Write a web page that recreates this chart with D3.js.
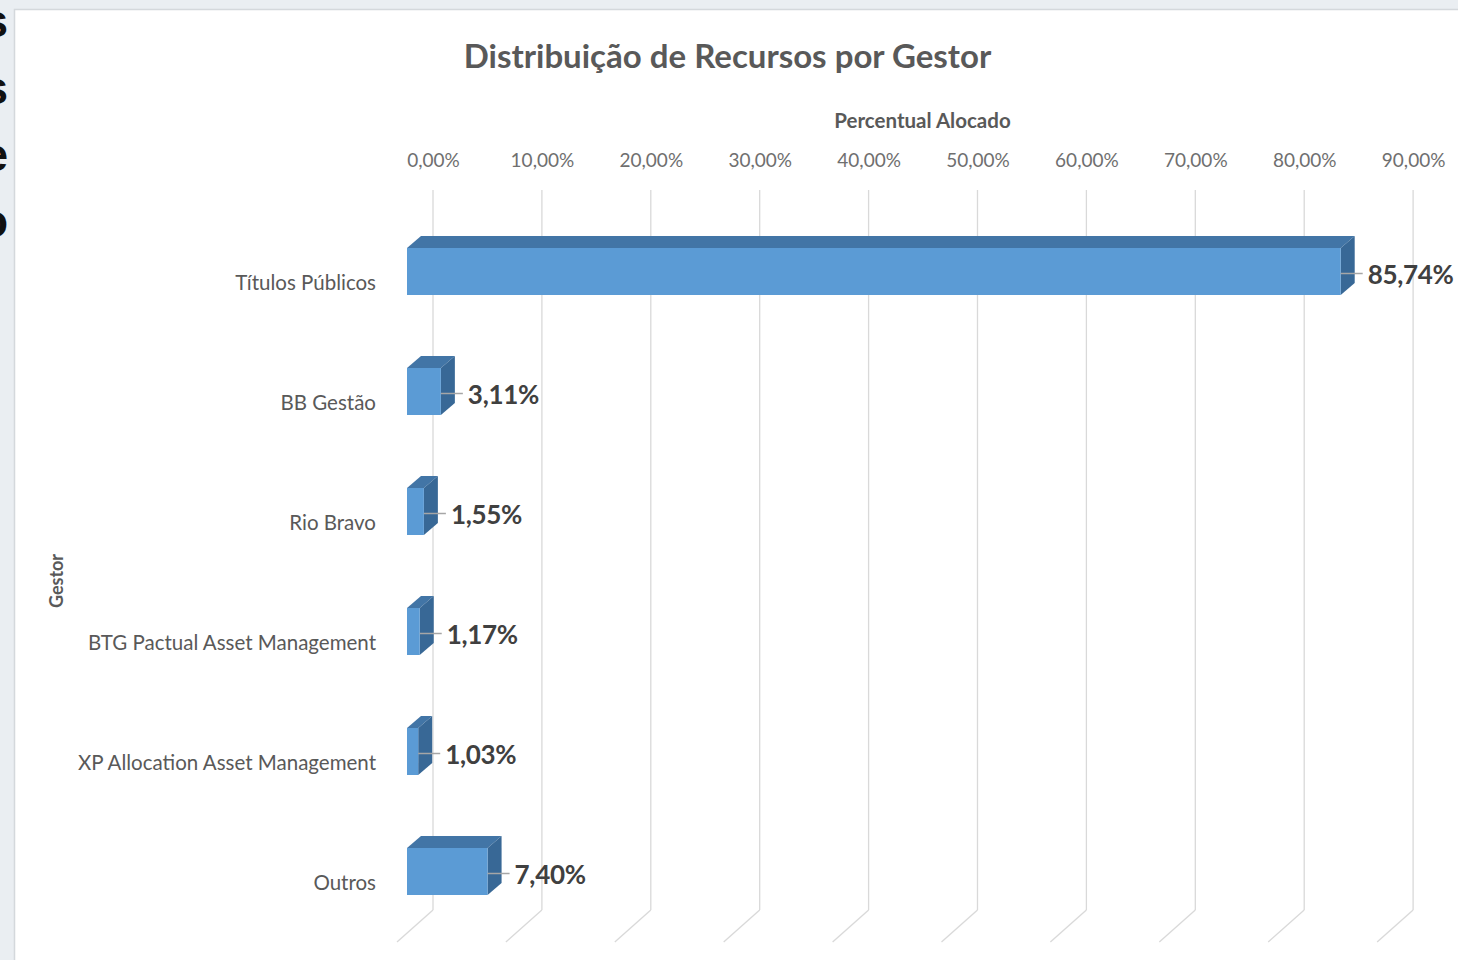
<!DOCTYPE html>
<html><head><meta charset="utf-8">
<script src="https://cdn.jsdelivr.net/npm/d3@7"></script>
<style>
html,body{margin:0;padding:0;background:#fff;}
svg{display:block;}
text{font-family:Lato,"Open Sans",sans-serif;}
</style></head>
<body>
<script>
// ---- data ----
const categories = ["Títulos Públicos","BB Gestão","Rio Bravo","BTG Pactual Asset Management","XP Allocation Asset Management","Outros"];
const values = [85.74, 3.11, 1.55, 1.17, 1.03, 7.40];
const valueLabels = ["85,74%","3,11%","1,55%","1,17%","1,03%","7,40%"];
const tickValues = [0,10,20,30,40,50,60,70,80,90];
const tickLabels = ["0,00%","10,00%","20,00%","30,00%","40,00%","50,00%","60,00%","70,00%","80,00%","90,00%"];
const slideLetters = ["s","s","e","o"];

const W = 1458, H = 960;
const svg = d3.select("body").append("svg").attr("width", W).attr("height", H);

// page background & chart frame
svg.append("rect").attr("width", W).attr("height", H).attr("fill", "#eaeef2");
svg.append("rect").attr("x", 14.5).attr("y", 9.5).attr("width", W).attr("height", H)
  .attr("fill", "#ffffff").attr("stroke", "#d4d8dc").attr("stroke-width", 1.5);

// slide letters on the far left (partly hidden by the chart frame, as in the reference)
svg.append("g").selectAll("text").data(slideLetters).join("text")
  .attr("x", 8).attr("y", (d, i) => 37 + i * 66.8)
  .attr("text-anchor", "end")
  .style("font-family", "'Liberation Sans', Arial, sans-serif")
  .style("font-weight", "bold").style("font-size", "46px").attr("fill", "#111")
  .text(d => d);

// scales
const depthX = 14, depthY = -12;   // bar depth
const wallX = 26;                  // back wall offset
const x = d3.scaleLinear().domain([0, 90]).range([407, 407 + 980.1]);
const xBack = d3.scaleLinear().domain([0, 90]).range([407 + wallX, 407 + wallX + 980.1]);
const y = d3.scalePoint().domain(categories).range([271.5, 871.5]);
const barH = 47;

// gridlines (back wall + floor)
const grid = svg.append("g");
grid.selectAll("line.v").data(tickValues).join("line").attr("class", "v")
  .attr("x1", d => xBack(d)).attr("x2", d => xBack(d))
  .attr("y1", 190).attr("y2", 910)
  .attr("stroke", "#d9d9d9").attr("stroke-width", 1.3);
grid.selectAll("line.f").data(tickValues).join("line").attr("class", "f")
  .attr("x1", d => xBack(d)).attr("x2", d => xBack(d) - 36)
  .attr("y1", 910).attr("y2", 942)
  .attr("stroke", "#d9d9d9").attr("stroke-width", 1.3);

// top axis labels
const axis = d3.axisTop(xBack).tickValues(tickValues)
  .tickFormat((d, i) => tickLabels[i]).tickSize(0).tickPadding(0);
const ag = svg.append("g").attr("transform", "translate(0,167)").call(axis);
ag.select(".domain").remove();
ag.selectAll("text").attr("dy", 0).attr("fill", "#6f6f6f")
  .style("font-family", "Lato, sans-serif").style("font-size", "19px");

// titles
svg.append("text").attr("x", 727.5).attr("y", 68).attr("text-anchor", "middle")
  .style("font-size", "33px").style("font-weight", "bold").attr("fill", "#595959")
  .text("Distribuição de Recursos por Gestor");
svg.append("text").attr("x", 922.5).attr("y", 128).attr("text-anchor", "middle")
  .style("font-size", "20.5px").style("font-weight", "bold").attr("fill", "#595959")
  .text("Percentual Alocado");
svg.append("text").attr("transform", "translate(63,581) rotate(-90)").attr("text-anchor", "middle")
  .style("font-size", "18px").style("font-weight", "bold").attr("fill", "#595959")
  .text("Gestor");

// category labels
svg.append("g").selectAll("text").data(categories).join("text")
  .attr("x", 376).attr("y", d => y(d) + 18).attr("text-anchor", "end")
  .style("font-size", "20.5px").attr("fill", "#595959").text(d => d);

// bars (3D)
const x0 = x(0);
const bars = svg.append("g").selectAll("g").data(values).join("g");
bars.append("polygon") // top face
  .attr("points", (d, i) => {
    const t = y(categories[i]) - barH / 2, r = x(d);
    return [[x0, t], [x0 + depthX, t + depthY], [r + depthX, t + depthY], [r, t]].join(" ");
  }).attr("fill", "#4275a6");
bars.append("polygon") // right face
  .attr("points", (d, i) => {
    const t = y(categories[i]) - barH / 2, b = t + barH, r = x(d);
    return [[r, t], [r + depthX, t + depthY], [r + depthX, b + depthY], [r, b]].join(" ");
  }).attr("fill", "#386896");
bars.append("rect") // front face
  .attr("x", x0).attr("y", (d, i) => y(categories[i]) - barH / 2)
  .attr("width", d => x(d) - x0).attr("height", barH)
  .attr("fill", "#5b9bd5");

// leader lines + value labels
bars.append("line")
  .attr("x1", d => x(d)).attr("x2", d => x(d) + 22)
  .attr("y1", (d, i) => y(categories[i]) + 2).attr("y2", (d, i) => y(categories[i]) + 2)
  .attr("stroke", "#a6a6a6").attr("stroke-width", 1.5);
bars.append("text")
  .attr("x", d => x(d) + 27).attr("y", (d, i) => y(categories[i]) + 12)
  .style("font-size", "26px").style("font-weight", "bold").style("letter-spacing", "-0.3px")
  .attr("fill", "#404040")
  .text((d, i) => valueLabels[i]);
</script>
</body></html>
